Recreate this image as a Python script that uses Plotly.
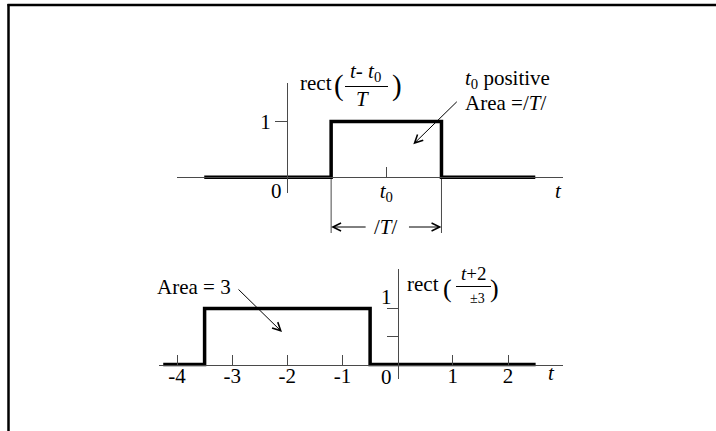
import plotly.graph_objects as go

W, H = 716, 431

# Top panel: rect((t - t0)/T) drawn as a step outline
top_t = [-1.5, 0.8, 0.8, 2.8, 2.8, 4.5]
top_rect = [0, 0, 1, 1, 0, 0]
top_t0 = 1.8
top_edges = [0.8, 2.8]
top_yticks = [1]
top_ytick_labels = ["1"]

# Bottom panel: rect((t + 2)/3)
bot_t = [-4.25, -3.5, -3.5, -0.5, -0.5, 2.5]
bot_rect = [0, 0, 1, 1, 0, 0]
bot_xticks = [-4, -3, -2, -1, 1, 2]
bot_xtick_labels = ["-4", "-3", "-2", "-1", "1", "2"]
bot_yticks = [0.5, 1]
bot_ytick_labels = ["", "1"]

FONT = "Liberation Serif, Times New Roman, serif"
INK = "#000000"
AXIS = "#4a4a4a"


def fx(p):
    return p / W


def fy(p):
    return 1 - p / H


def panel(x0, y0, sx, sy, left, right, top, bottom):
    """Axis ranges/domains for a panel given its origin and pixel scale."""
    return dict(
        xrange=[(left - x0) / sx, (right - x0) / sx],
        yrange=[(y0 - bottom) / sy, (y0 - top) / sy],
        xdomain=[fx(left), fx(right)],
        ydomain=[fy(bottom), fy(top)],
        xpos=fy(y0),
        ypos=fx(x0),
    )


P1 = panel(287, 177.3, 55.17, 55.8, 177, 563, 83, 193)
P2 = panel(397.7, 364.5, 55.17, 56.0, 159, 563, 269, 379)

fig = go.Figure()
fig.add_trace(go.Scatter(x=top_t, y=top_rect, mode="lines",
                         line=dict(color=INK, width=3.5), xaxis="x", yaxis="y",
                         hoverinfo="skip", showlegend=False))
fig.add_trace(go.Scatter(x=bot_t, y=bot_rect, mode="lines",
                         line=dict(color=INK, width=3.5), xaxis="x2", yaxis="y2",
                         hoverinfo="skip", showlegend=False))

tickfont = dict(family=FONT, size=21, color=INK)


def xaxis(p, **kw):
    return dict(range=p["xrange"], domain=p["xdomain"], anchor="free",
                position=p["xpos"], showline=True, linecolor=AXIS, linewidth=1,
                showgrid=False, zeroline=False, ticks="inside", ticklen=10,
                tickcolor=AXIS, tickwidth=1, tickfont=tickfont, fixedrange=True,
                **kw)


def yaxis(p, **kw):
    return dict(range=p["yrange"], domain=p["ydomain"], anchor="free",
                position=p["ypos"], showline=True, linecolor=AXIS, linewidth=1,
                showgrid=False, zeroline=False, ticks="outside",
                tickcolor=AXIS, tickwidth=1, tickfont=tickfont, fixedrange=True,
                **kw)


annotations = []


def text(s, x, y, size=21, xanchor="center", xref="paper", yref="paper"):
    """Place a label; paper positions are given in pixels from the top-left."""
    annotations.append(dict(text=s,
                            x=fx(x) if xref == "paper" else x,
                            y=fy(y) if yref == "paper" else y,
                            xref=xref, yref=yref,
                            showarrow=False, xanchor=xanchor, yanchor="middle",
                            font=dict(family=FONT, size=size, color=INK)))


def arrow(x, y, ax, ay, xref, yref):
    annotations.append(dict(text="", x=x, y=fy(y) if yref == "paper" else y,
                            xref=xref, yref=yref,
                            ax=ax, ay=ay, showarrow=True, arrowhead=5,
                            arrowsize=1.6, arrowwidth=1, arrowcolor=INK,
                            standoff=0, startstandoff=0))


shapes = []


def hline(x0, x1, y, color=INK, width=1):
    shapes.append(dict(type="line", xref="paper", yref="paper",
                       x0=fx(x0), x1=fx(x1), y0=fy(y), y1=fy(y),
                       line=dict(color=color, width=width)))


# --- top panel labels ---
text("rect", 316, 83)
text("(", 339, 85, size=29)
text("<i>t</i>- <i>t</i><sub>0</sub>", 365, 72, size=21)
hline(345, 388, 86.5)
text("<i>T</i>", 362, 99, size=21)
text(")", 397, 85, size=29)
text("<i>t</i><sub>0</sub> positive", 463, 79, xanchor="left")
text("Area =/<i>T</i>/", 463, 103, xanchor="left")
text("0", 276, 191)
text("<i>t</i>", 558, 191)
arrow((413.3 - 287) / 55.17, (177.3 - 144.3) / 55.8, 45, -44, "x", "y")

# width marker below the top pulse
for e in top_edges:
    shapes.append(dict(type="line", xref="x", yref="paper", x0=e, x1=e,
                       y0=fy(179), y1=fy(233), line=dict(color=AXIS, width=1)))
arrow(top_edges[0], 227, 36, 0, "x", "paper")
arrow(top_edges[1], 227, -34, 0, "x", "paper")
text("/<i>T</i>/", top_t0, 227, xref="x")

# --- bottom panel labels ---
text("Area = 3", 155, 287, xanchor="left")
arrow((282 - 397.7) / 55.17, (364.5 - 332) / 56.0, -45, -44, "x2", "y2")
text("rect", 423, 284)
text("(", 447, 288, size=26)
text("<i>t</i>+2", 474, 273, size=19)
hline(456, 491, 286.5)
text("±3", 477, 298, size=14)
text(")", 494, 288, size=26)
text("0", 386, 377)
text("<i>t</i>", 551, 373)

# frame around the figure (top and left edges)
shapes.append(dict(type="line", xref="paper", yref="paper", x0=fx(7.5), x1=1,
                   y0=fy(5), y1=fy(5), line=dict(color=INK, width=2.5)))
shapes.append(dict(type="line", xref="paper", yref="paper", x0=fx(8.5), x1=fx(8.5),
                   y0=fy(4), y1=0, line=dict(color=INK, width=2.5)))

fig.update_layout(
    width=W, height=H, autosize=False,
    margin=dict(l=0, r=0, t=0, b=0, pad=0),
    paper_bgcolor="white", plot_bgcolor="rgba(0,0,0,0)",
    showlegend=False,
    xaxis=xaxis(P1, tickvals=[top_t0], ticktext=["<i>t</i><sub>0</sub>"],
                ticklabelstandoff=-6),
    yaxis=yaxis(P1, tickvals=top_yticks, ticktext=top_ytick_labels, ticklen=12),
    xaxis2=xaxis(P2, tickvals=bot_xticks, ticktext=bot_xtick_labels,
                 ticklabelstandoff=-8),
    yaxis2=yaxis(P2, tickvals=bot_yticks, ticktext=bot_ytick_labels, ticklen=11,
                 ticklabelshift=-12, ticklabelstandoff=-9),
    annotations=annotations,
    shapes=shapes,
)

fig.write_html("out.html", config={"displayModeBar": False, "staticPlot": True})
